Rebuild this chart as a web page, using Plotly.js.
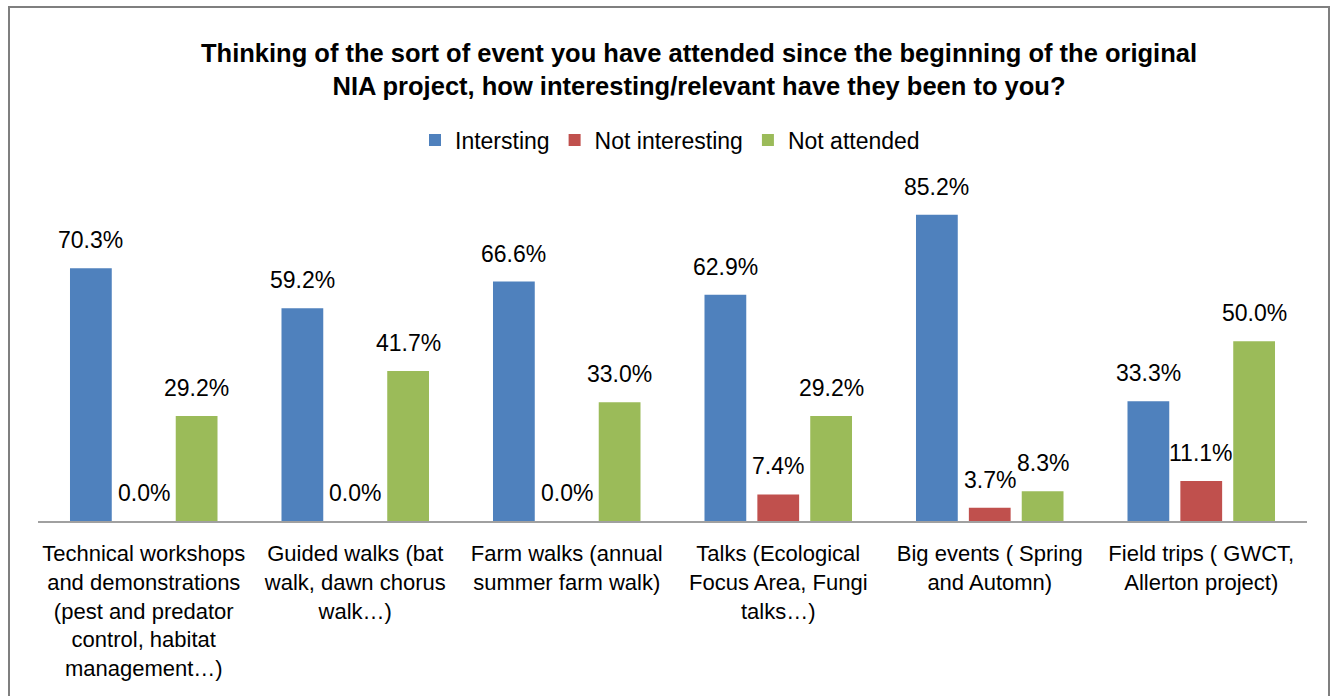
<!DOCTYPE html>
<html>
<head>
<meta charset="utf-8">
<script src="https://cdn.plot.ly/plotly-3.0.1.min.js"></script>
<style>
  html, body { margin: 0; padding: 0; background: #fff; }
  #wrap { position: relative; width: 1338px; height: 696px; overflow: hidden; }
  #frame { position: absolute; left: 8px; top: 6px; width: 1322px; height: 720px;
           border: 2px solid #7f7f7f; box-sizing: border-box; }
  #chart { position: absolute; left: 0; top: 0; width: 1338px; height: 696px; }
</style>
</head>
<body>
<div id="wrap">
  <div id="frame"></div>
  <div id="chart"></div>
</div>
<script>
// ---- data ----
const categories = [
  "Technical workshops<br>and demonstrations<br>(pest and predator<br>control, habitat<br>management…)",
  "Guided walks (bat<br>walk, dawn chorus<br>walk…)",
  "Farm walks (annual<br>summer farm walk)",
  "Talks (Ecological<br>Focus Area, Fungi<br>talks…)",
  "Big events ( Spring<br>and Automn)",
  "Field trips ( GWCT,<br>Allerton project)"
];
const seriesNames = ["Intersting", "Not interesting", "Not attended"];
const interesting    = [70.3, 59.2, 66.6, 62.9, 85.2, 33.3];
const notInteresting = [0.0, 0.0, 0.0, 7.4, 3.7, 11.1];
const notAttended    = [29.2, 41.7, 33.0, 29.2, 8.3, 50.0];

// ---- style ----
const colors = ["#4F81BD", "#C0504D", "#9BBB59"];
const FONT = "Liberation Sans, Arial, sans-serif";
const W = 1338, H = 696;
const margin = {l: 38, r: 31, t: 156, b: 175};
const bargap = 0.25;
const bargroupgap = 0.21;

const seriesValues = [interesting, notInteresting, notAttended];
const traces = seriesValues.map((vals, i) => ({
  type: "bar",
  name: seriesNames[i],
  x: categories,
  y: vals,
  marker: {color: colors[i]},
  hoverinfo: "x+y"
}));

// label positions derived from plot geometry
const plotW = W - margin.l - margin.r;
const catW = plotW / categories.length;
const slot = catW * (1 - bargap) / seriesValues.length;
const annotations = [];
seriesValues.forEach((vals, i) => {
  vals.forEach((v, j) => {
    annotations.push({
      x: categories[j], y: v, xref: "x", yref: "y",
      text: v.toFixed(1) + "%",
      showarrow: false,
      xanchor: "center", yanchor: "bottom",
      xshift: (i - 1) * slot,
      yshift: 13,
      font: {family: FONT, size: 23, color: "#000"}
    });
  });
});

const layout = {
  width: W, height: H,
  margin: margin,
  paper_bgcolor: "rgba(0,0,0,0)",
  plot_bgcolor: "rgba(0,0,0,0)",
  barmode: "group",
  bargap: bargap,
  bargroupgap: bargroupgap,
  title: {
    text: "<b>Thinking of the sort of event you have attended since the beginning of the original<br>NIA project, how interesting/relevant have they been to you?</b>",
    font: {family: FONT, size: 25.5, color: "#000"},
    x: 699 / W, xref: "container", xanchor: "center",
    y: 1 - 62 / H, yref: "container", yanchor: "top"
  },
  legend: {
    orientation: "h",
    x: 670 / W, xref: "container", xanchor: "center",
    y: 1 - 140 / H, yref: "container", yanchor: "middle",
    font: {family: FONT, size: 23, color: "#000"},
    itemwidth: 30,
    traceorder: "normal"
  },
  xaxis: {
    type: "category",
    showline: true, linecolor: "#a0a0a0", linewidth: 2,
    showgrid: false, zeroline: false,
    ticks: "outside", ticklen: 12, tickcolor: "rgba(0,0,0,0)",
    tickfont: {family: FONT, size: 22, color: "#000"},
    tickangle: 0
  },
  yaxis: {
    range: [0, 100],
    visible: false, showgrid: false, zeroline: false, fixedrange: true
  },
  annotations: annotations,
  showlegend: true
};

Plotly.newPlot("chart", traces, layout, {displayModeBar: false, staticPlot: true});
</script>
</body>
</html>
